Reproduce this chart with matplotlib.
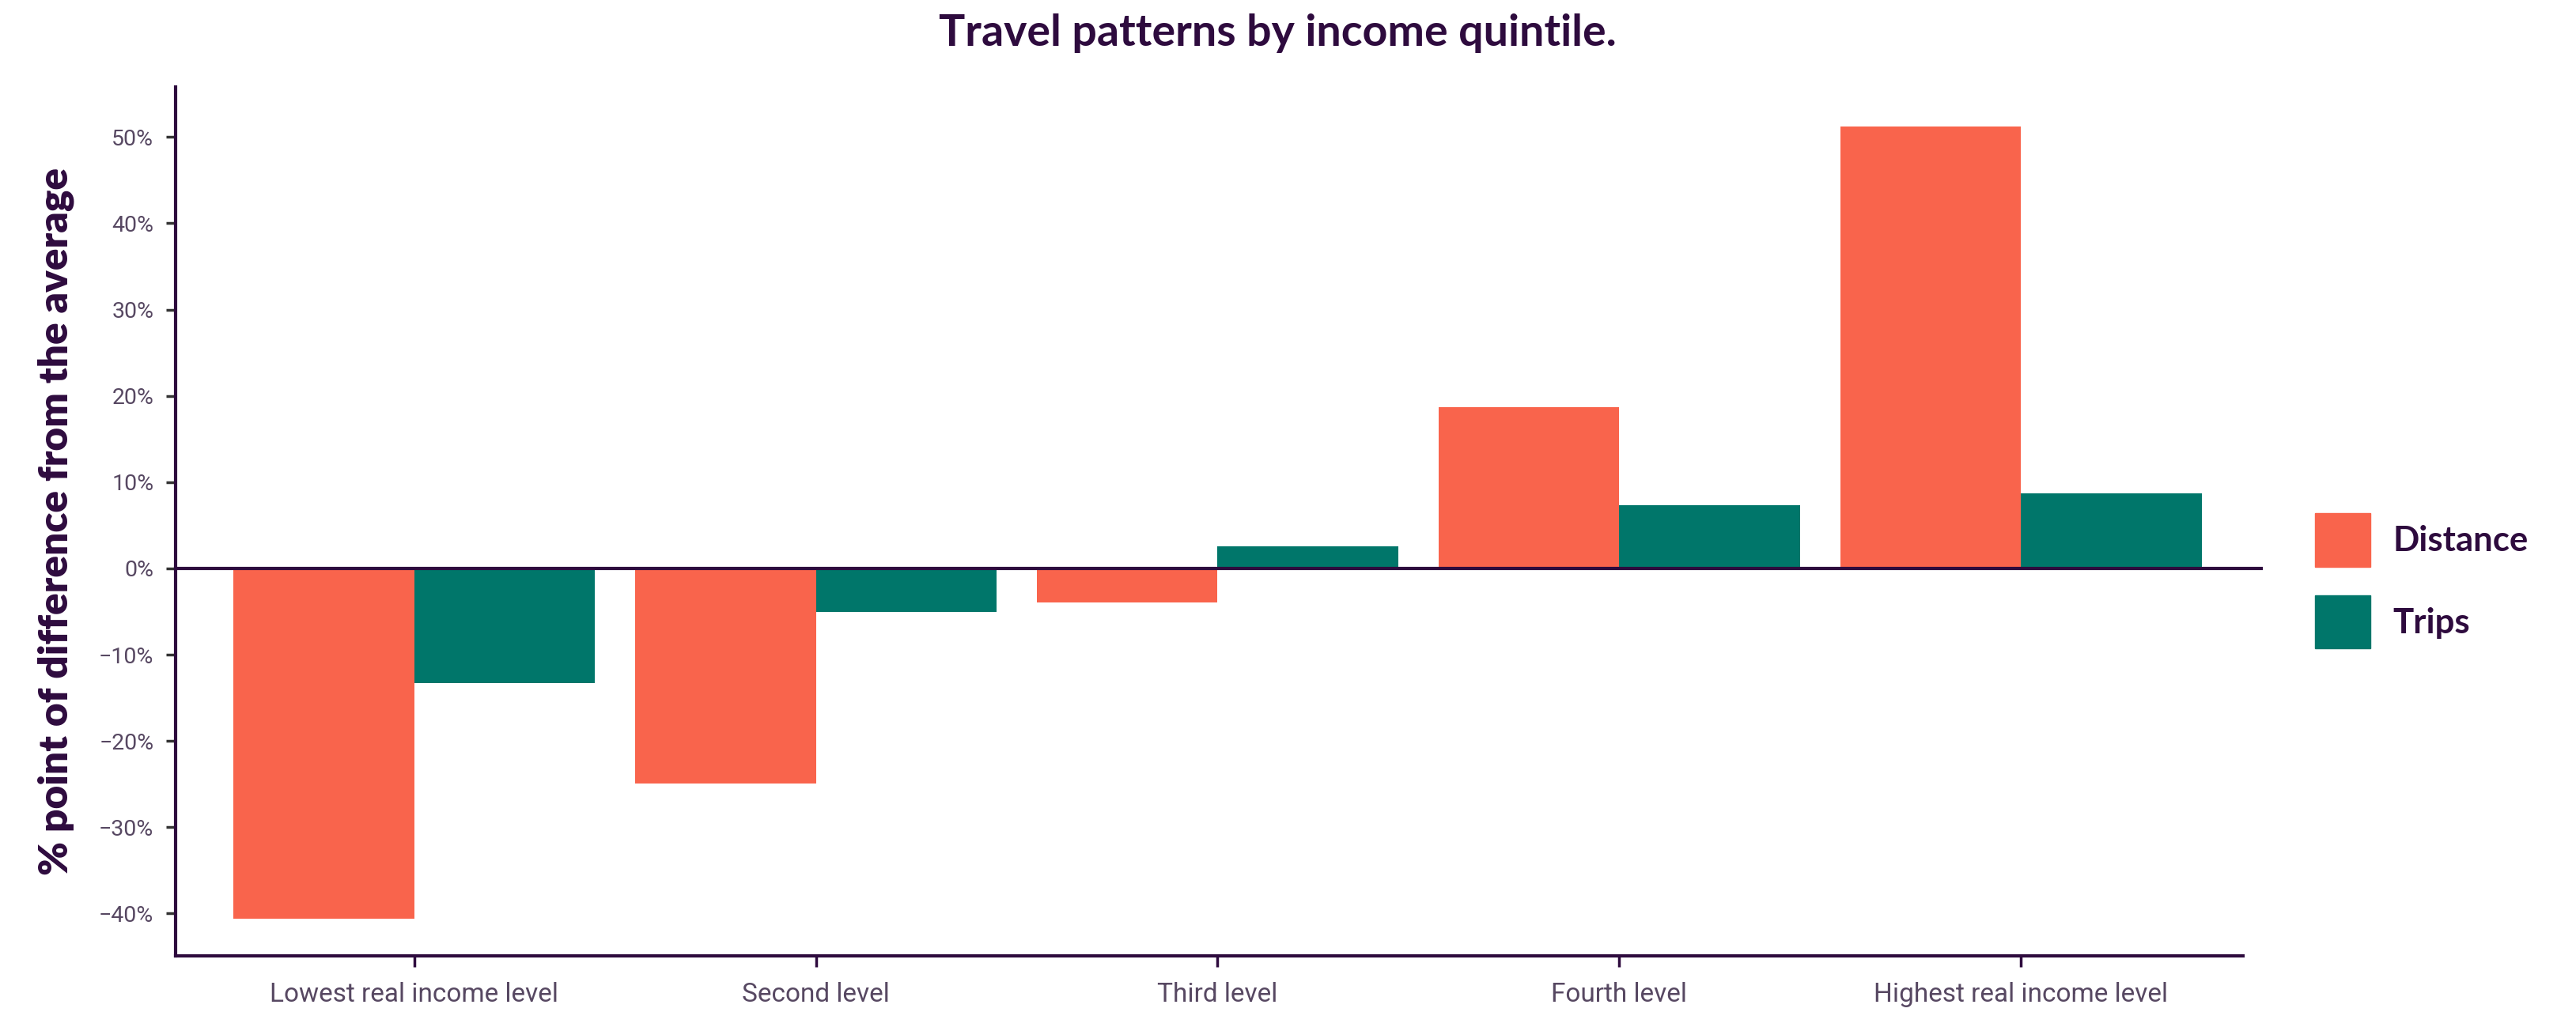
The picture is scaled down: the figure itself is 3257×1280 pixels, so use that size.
import matplotlib
matplotlib.use('Agg')
import matplotlib.pyplot as plt
import numpy as np
from matplotlib.ticker import FuncFormatter
from matplotlib.patches import Patch

levels = ['Lowest real income level', 'Second level', 'Third level',
          'Fourth level', 'Highest real income level']
distance = [-40.6, -24.9, -3.9, 18.7, 51.2]
trips = [-13.3, -5.0, 2.6, 7.3, 8.7]
y_ticks = [-40, -30, -20, -10, 0, 10, 20, 30, 40, 50]

orange = '#F9644C'
teal = '#00766A'
purple = '#2E0B3E'
label_grey = '#574862'

fig = plt.figure(figsize=(32.57, 12.8), dpi=100)
ax = fig.add_axes([0.0682, 0.0555, 0.8025, 0.8585])

x = np.arange(len(levels))
w = 0.45
ax.bar(x - w / 2, distance, w, color=orange, label='Distance')
ax.bar(x + w / 2, trips, w, color=teal, label='Trips')

ax.set_xlim(-0.594, 4.553)
ax.set_ylim(-44.9, 55.8)
ax.axhline(0, xmin=0, xmax=1.009, color=purple, lw=3, clip_on=False, zorder=3)

for s in ['top', 'right']:
    ax.spines[s].set_visible(False)
for s in ['left', 'bottom']:
    ax.spines[s].set_color(purple)
    ax.spines[s].set_linewidth(3)

ax.set_yticks(y_ticks)
ax.yaxis.set_major_formatter(FuncFormatter(
    lambda v, p: f'{int(v)}%'.replace('-', '\u2212')))
ax.set_xticks(x)
ax.set_xticklabels(levels)
ax.tick_params(axis='y', length=9, width=2.5, color='#333333', pad=11,
               labelsize=20.5, labelcolor=label_grey)
ax.tick_params(axis='x', length=10, width=2.5, color=purple, pad=14,
               labelsize=24, labelcolor=label_grey)
for lab in ax.get_xticklabels() + ax.get_yticklabels():
    lab.set_family(['Roboto', 'DejaVu Sans'])

ax.set_ylabel('% point of difference from the average', fontsize=37,
              fontweight='heavy', color=purple, family=['Lato', 'DejaVu Sans'])
ax.yaxis.set_label_coords(-0.049, 0.5)

fig.text(0.496, 0.967, 'Travel patterns by income quintile.', ha='center',
         va='center', fontsize=40, fontweight='bold', color=purple,
         family=['Lato', 'DejaVu Sans'])

handles = [Patch(color=orange), Patch(color=teal)]
fig.legend(handles, ['Distance', 'Trips'], loc='center left',
           bbox_to_anchor=(0.8987, 0.426), frameon=False, borderpad=0,
           borderaxespad=0, handlelength=1.6, handleheight=2.0,
           handletextpad=0.65, labelspacing=0.83,
           prop={'family': ['Lato', 'DejaVu Sans'], 'weight': 'bold',
                 'size': 31.5},
           labelcolor=purple)

fig.savefig('out.png', dpi=100)
